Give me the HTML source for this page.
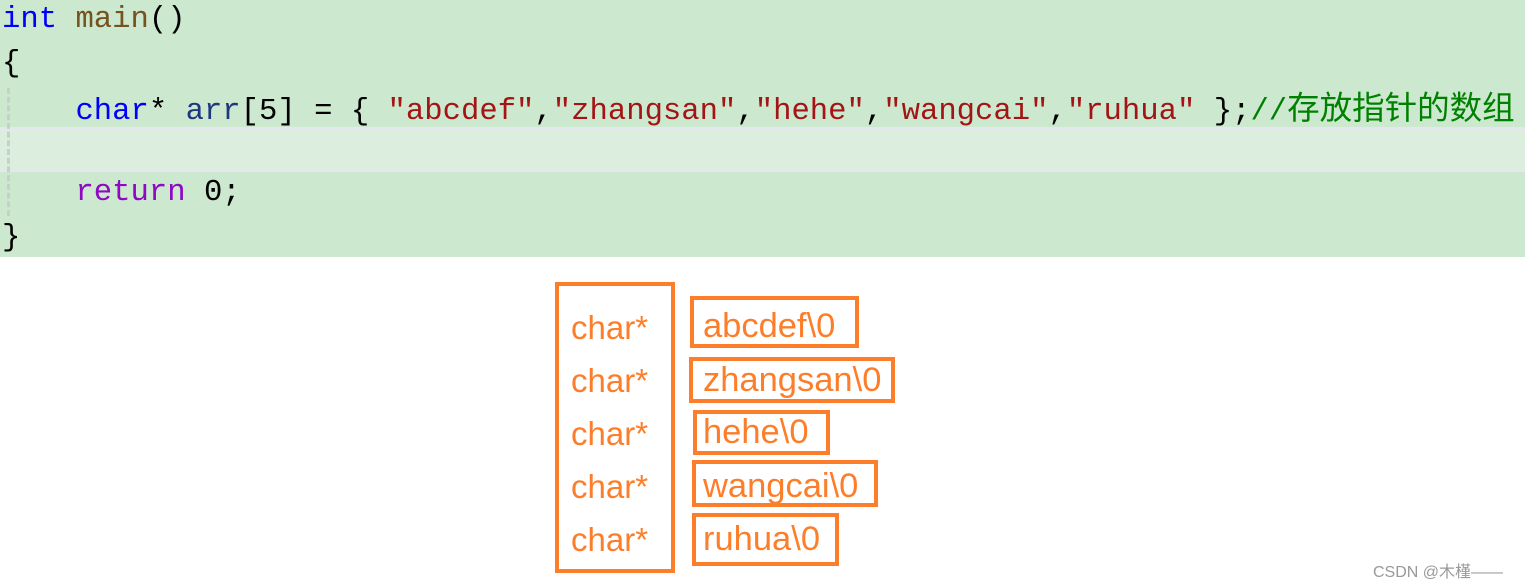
<!DOCTYPE html>
<html><head><meta charset="utf-8"><style>
body{margin:0;width:1525px;height:587px;background:#fff;position:relative;overflow:hidden}
.code{position:absolute;left:0;top:0;width:1525px;height:257px;background:#cce8cf}
.hl{position:absolute;left:0;top:127px;width:1525px;height:45px;background:#dcefdf;border-top:3px solid #e6e6ee;border-bottom:3px solid #e6e6ee;box-sizing:border-box}
.guide{position:absolute;left:7px;top:88px;height:128px;border-left:3px dashed #c8cfc8}
.ln{position:absolute;left:2px;font-family:"Liberation Mono",monospace;font-size:30.6px;white-space:pre;line-height:36px;color:#000}
.kw{color:#0000ff}.fn{color:#74531f}.id{color:#1f377f}.st{color:#a31515}.cm{color:#008000}.rt{color:#8f08c4}
.cj{font-family:"Noto Sans CJK SC",sans-serif;font-size:32.5px}
.box{position:absolute;border:4px solid #fd7e2a;box-sizing:border-box}
.t{position:absolute;font-family:"Liberation Sans",sans-serif;font-size:33px;color:#fd7e2a;line-height:36px;white-space:pre}
.r{font-size:34.5px}
.wm{position:absolute;left:1373px;top:558px;font-family:"Liberation Sans","Noto Sans CJK SC",sans-serif;font-size:16px;color:#999}
</style></head><body>
<div class="code">
<div class="hl"></div>
<div class="guide"></div>
<div class="ln" style="top:2px"><span class="kw">int</span> <span class="fn">main</span>()</div>
<div class="ln" style="top:46px">{</div>
<div class="ln" style="top:88px">    <span class="kw">char</span>* <span class="id">arr</span>[5] = { <span class="st">"abcdef"</span>,<span class="st">"zhangsan"</span>,<span class="st">"hehe"</span>,<span class="st">"wangcai"</span>,<span class="st">"ruhua"</span> };<span class="cm">//<span class="cj">存放指针的数组</span></span></div>
<div class="ln" style="top:175px">    <span class="rt">return</span> 0;</div>
<div class="ln" style="top:220px">}</div>
</div>
<div class="box" style="left:555px;top:282px;width:120px;height:291px"></div>
<div class="t" style="left:571px;top:310px">char*</div>
<div class="t" style="left:571px;top:363px">char*</div>
<div class="t" style="left:571px;top:416px">char*</div>
<div class="t" style="left:571px;top:469px">char*</div>
<div class="t" style="left:571px;top:522px">char*</div>
<div class="box" style="left:690px;top:296px;width:169px;height:52px"></div>
<div class="t r" style="left:703px;top:308px">abcdef\0</div>
<div class="box" style="left:689px;top:357px;width:206px;height:46px"></div>
<div class="t r" style="left:703px;top:362px">zhangsan\0</div>
<div class="box" style="left:693px;top:410px;width:137px;height:45px"></div>
<div class="t r" style="left:703px;top:414px">hehe\0</div>
<div class="box" style="left:692px;top:460px;width:186px;height:47px"></div>
<div class="t r" style="left:703px;top:468px">wangcai\0</div>
<div class="box" style="left:692px;top:513px;width:147px;height:53px"></div>
<div class="t r" style="left:703px;top:521px">ruhua\0</div>
<div class="wm">CSDN @木槿——</div>
</body></html>
